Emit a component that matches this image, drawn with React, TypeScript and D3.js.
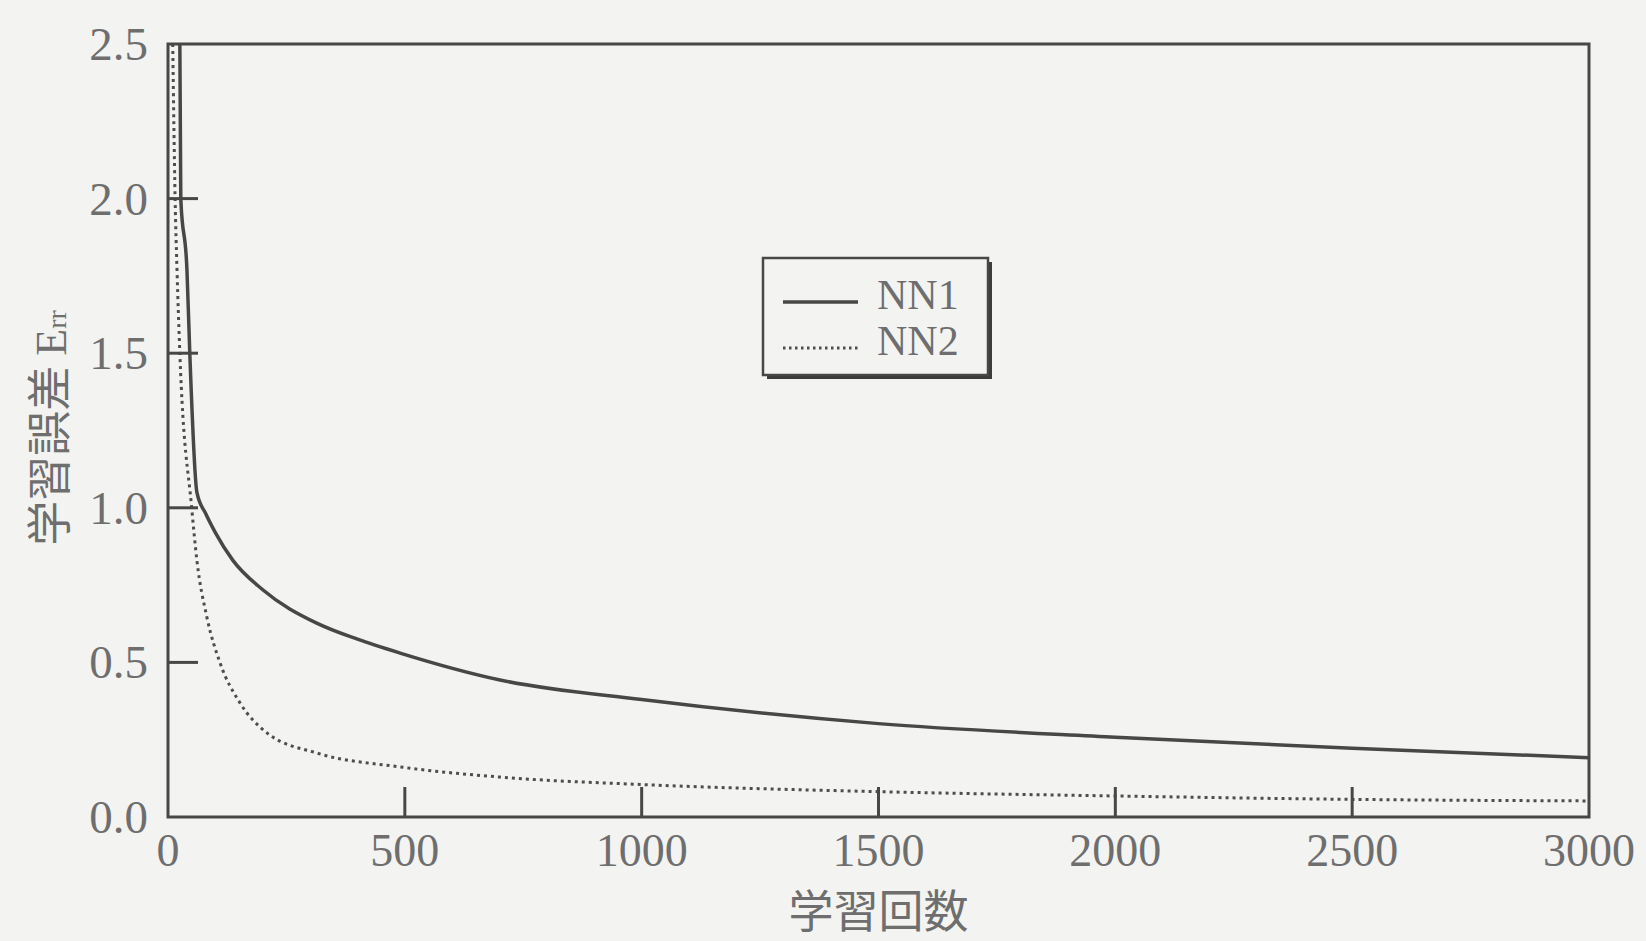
import React from "react";
import * as d3 from "d3";

// training error curves
const itersNN1 = [25, 27, 40, 46, 61, 80, 100, 137, 200, 314, 400, 490, 701, 1000, 1500, 2000, 2500, 3000];
const errNN1 = [2.5, 2.0, 1.77, 1.5, 1.05, 0.98, 0.92, 0.83, 0.735, 0.627, 0.575, 0.53, 0.443, 0.38, 0.302, 0.258, 0.222, 0.192];

const itersNN2 = [10, 15, 19, 25, 50, 61, 82, 110, 152, 209, 314, 490, 701, 1000, 1500, 2000, 2500, 3000];
const errNN2 = [2.5, 2.0, 1.77, 1.5, 1.0, 0.83, 0.647, 0.498, 0.369, 0.272, 0.207, 0.162, 0.129, 0.105, 0.082, 0.068, 0.057, 0.052];

const xTicks = [0, 500, 1000, 1500, 2000, 2500, 3000];
const yTicks = [0.0, 0.5, 1.0, 1.5, 2.0, 2.5];
const seriesNames = ["NN1", "NN2"];

const W = 1646;
const H = 941;
const ink = "#474747";
const dotInk = "#4d4d4d";
const textGray = "#6e6e6e";
const serif = "'Liberation Serif', 'DejaVu Serif', serif";
const cjk = "'Noto Sans CJK JP', 'Noto Sans CJK SC', sans-serif";

const App: React.FC = () => {
  const margin = { left: 168, right: W - 1589, top: 44, bottom: H - 817 };

  const x = d3.scaleLinear().domain([0, 3000]).range([margin.left, W - margin.right]);
  const y = d3.scaleLinear().domain([0, 2.5]).range([H - margin.bottom, margin.top]);

  const line = d3
    .line<[number, number]>()
    .x((d) => x(d[0]))
    .y((d) => y(d[1]))
    .curve(d3.curveMonotoneX);

  const nn1 = itersNN1.map((it, i) => [it, errNN1[i]] as [number, number]);
  const nn2 = itersNN2.map((it, i) => [it, errNN2[i]] as [number, number]);

  const x0 = x(0);
  const x1 = x(3000);
  const y0 = y(0);
  const y1 = y(2.5);
  const tickLen = 30;

  // legend box
  const lg = { x: 763, y: 258, w: 225, h: 117 };

  return (
    <svg
      width={W}
      height={H}
      style={{ position: "absolute", left: 0, top: 0, background: "#f3f3f1" }}
    >
      <rect x={0} y={0} width={W} height={H} fill="#f3f3f1" />

      {/* curves */}
      <path d={line(nn1) || ""} fill="none" stroke={ink} strokeWidth={3.5} />
      <path
        d={line(nn2) || ""}
        fill="none"
        stroke={dotInk}
        strokeWidth={3}
        strokeDasharray="3 4"
      />

      {/* frame */}
      <rect
        x={x0}
        y={y1}
        width={x1 - x0}
        height={y0 - y1}
        fill="none"
        stroke={ink}
        strokeWidth={3}
      />

      {/* x ticks and labels */}
      {xTicks.map((t) => (
        <g key={"x" + t}>
          {t > 0 && t < 3000 && (
            <line x1={x(t)} x2={x(t)} y1={y0} y2={y0 - tickLen} stroke={ink} strokeWidth={3} />
          )}
          <text
            x={x(t)}
            y={866}
            textAnchor="middle"
            fontFamily={serif}
            fontSize={46}
            fill={textGray}
          >
            {t}
          </text>
        </g>
      ))}

      {/* y ticks and labels */}
      {yTicks.map((t) => (
        <g key={"y" + t}>
          {t > 0 && t < 2.5 && (
            <line x1={x0} x2={x0 + tickLen} y1={y(t)} y2={y(t)} stroke={ink} strokeWidth={3} />
          )}
          <text
            x={148}
            y={y(t)}
            dy="0.34em"
            textAnchor="end"
            fontFamily={serif}
            fontSize={47}
            fill={textGray}
          >
            {t.toFixed(1)}
          </text>
        </g>
      ))}

      {/* axis titles */}
      <text
        x={(x0 + x1) / 2}
        y={928}
        textAnchor="middle"
        fontFamily={cjk}
        fontSize={45}
        fill={textGray}
      >
        学習回数
      </text>
      <text
        transform={`translate(66, 428) rotate(-90)`}
        textAnchor="middle"
        fontFamily={cjk}
        fontSize={45}
        fill={textGray}
      >
        学習誤差 <tspan fontFamily={serif} fontSize={44}>E</tspan>
        <tspan fontFamily={serif} fontSize={28}>rr</tspan>
      </text>

      {/* legend */}
      <rect x={lg.x + 4} y={lg.y + 4} width={lg.w} height={lg.h} fill="#3c3c3c" />
      <rect x={lg.x} y={lg.y} width={lg.w} height={lg.h} fill="#f3f3f1" stroke={ink} strokeWidth={2.5} />
      {seriesNames.map((name, i) => (
        <g key={name}>
          <line
            x1={783}
            x2={858}
            y1={302 + i * 46}
            y2={302 + i * 46}
            stroke={i === 0 ? ink : dotInk}
            strokeWidth={i === 0 ? 3.5 : 3}
            strokeDasharray={i === 0 ? undefined : "2.5 3.5"}
          />
          <text x={877} y={309 + i * 46} fontFamily={serif} fontSize={42} fill={textGray}>
            {name}
          </text>
        </g>
      ))}
    </svg>
  );
};

export default App;
